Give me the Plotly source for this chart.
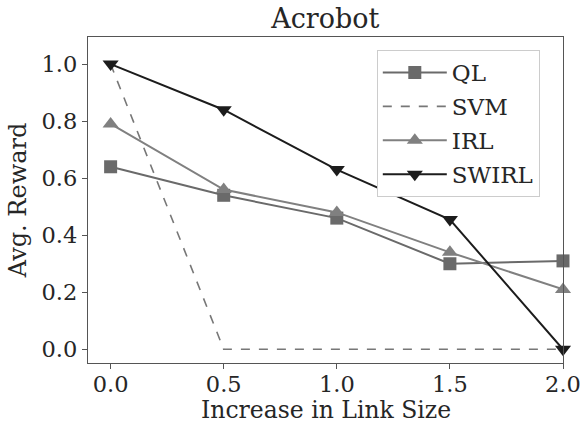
import plotly.graph_objects as go

# Link-size increments and average reward per method
link_size = [0.0, 0.5, 1.0, 1.5, 2.0]
ql_reward = [0.64, 0.54, 0.46, 0.30, 0.31]
svm_reward = [1.0, 0.0, 0.0, 0.0, 0.0]
irl_reward = [0.79, 0.56, 0.48, 0.34, 0.21]
swirl_reward = [1.0, 0.84, 0.63, 0.455, 0.0]

x_ticks = [0.0, 0.5, 1.0, 1.5, 2.0]
y_ticks = [0.0, 0.2, 0.4, 0.6, 0.8, 1.0]

FONT = "DejaVu Serif"
TEXT = "#262626"

fig = go.Figure()
fig.add_trace(go.Scatter(
    x=link_size, y=ql_reward, name="QL", mode="lines+markers", legendgroup="ql",
    line=dict(color="#6a6a6a", width=2),
    marker=dict(symbol="square", size=13, color="#6a6a6a"),
    cliponaxis=False,
))
fig.add_trace(go.Scatter(
    x=link_size, y=svm_reward, name="SVM", mode="lines", legendgroup="svm",
    line=dict(color="#777777", width=1.6, dash="dash"),
    cliponaxis=False,
))
fig.add_trace(go.Scatter(
    x=link_size, y=irl_reward, name="IRL", mode="lines+markers", legendgroup="irl",
    line=dict(color="#808080", width=2),
    marker=dict(symbol="triangle-up", size=14, color="#808080"),
    cliponaxis=False,
))
fig.add_trace(go.Scatter(
    x=link_size, y=swirl_reward, name="SWIRL", mode="lines+markers", legendgroup="swirl",
    line=dict(color="#1c1c1c", width=2),
    marker=dict(symbol="triangle-down", size=14, color="#1c1c1c"),
    cliponaxis=False,
))

axis_common = dict(
    showline=True, linecolor="#555555", linewidth=1.3, mirror=True,
    ticks="outside", ticklen=5, tickcolor="#555555", tickwidth=1.2,
    showgrid=False, zeroline=False, automargin=False,
    tickfont=dict(family=FONT, size=22.5, color=TEXT),
)

fig.update_layout(
    width=584, height=423,
    margin=dict(l=88, r=21, t=37, b=60),
    paper_bgcolor="white", plot_bgcolor="white",
    title=dict(text="Acrobot", x=0.557, xanchor="center", y=0.957, yanchor="middle",
               automargin=False,
               font=dict(family=FONT, size=27, color=TEXT)),
    xaxis=dict(range=[-0.1, 2.0], tickvals=x_ticks,
               ticktext=[f"{v:.1f}" for v in x_ticks],
               ticklabelstandoff=-4,
               **axis_common),
    yaxis=dict(range=[-0.048, 1.095], tickvals=y_ticks,
               ticktext=[f"{v:.1f}" for v in y_ticks],
               **axis_common),
    legend=dict(x=0.608, y=0.96, xanchor="left", yanchor="top",
                bgcolor="white", bordercolor="#cccccc", borderwidth=1,
                font=dict(family=FONT, size=23, color=TEXT),
                tracegroupgap=1, itemwidth=64),
    showlegend=True,
)

# Axis titles placed as paper-anchored annotations
fig.add_annotation(text="Increase in Link Size", xref="paper", yref="paper",
                   x=0.5, y=-0.192, xanchor="center", yanchor="bottom",
                   showarrow=False, font=dict(family=FONT, size=23.5, color=TEXT))
fig.add_annotation(text="Avg. Reward", xref="paper", yref="paper",
                   x=-0.147, y=0.5, xanchor="center", yanchor="middle", textangle=-90,
                   showarrow=False, font=dict(family=FONT, size=24, color=TEXT))

fig.write_html("out.html")
